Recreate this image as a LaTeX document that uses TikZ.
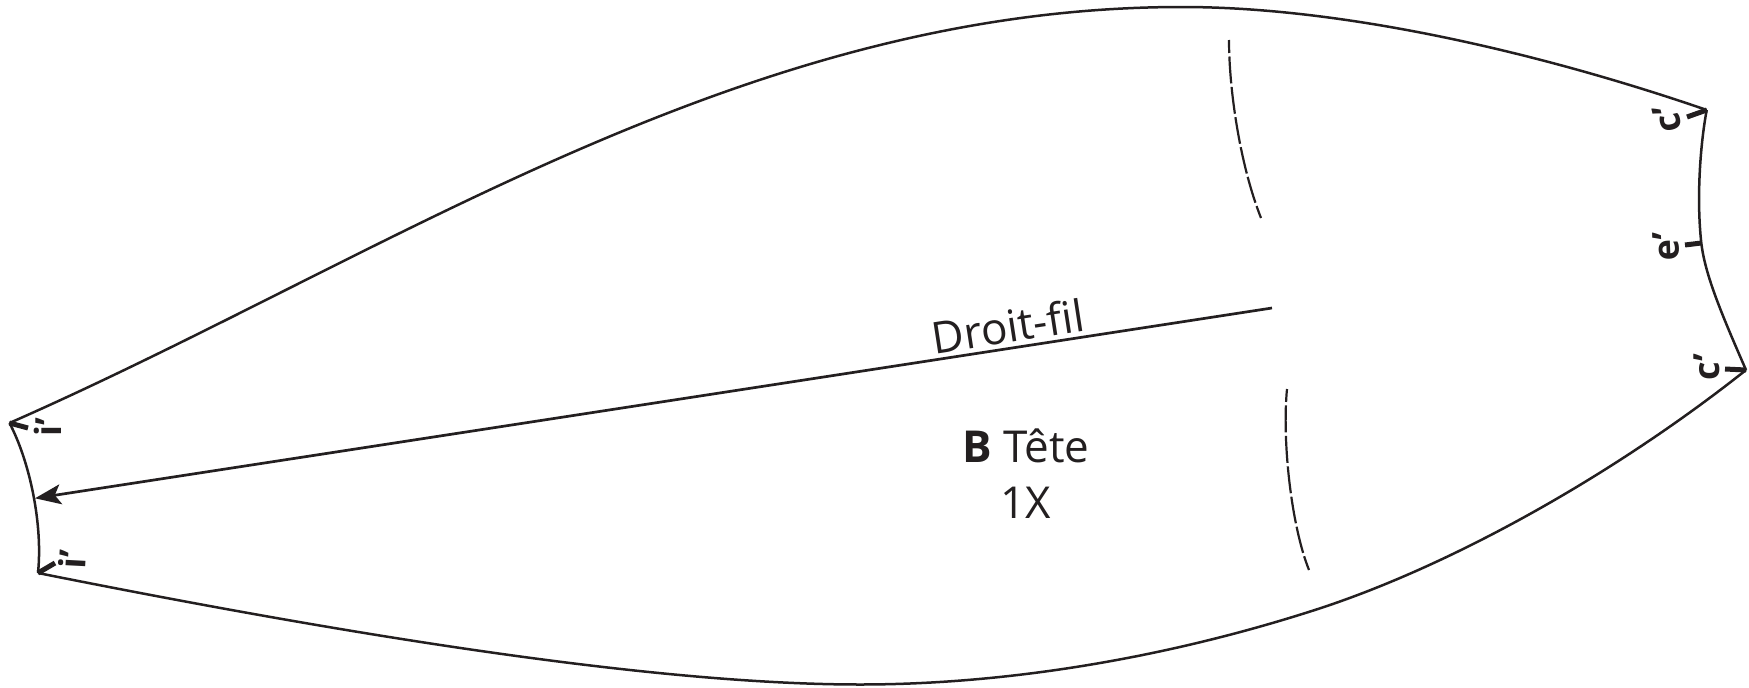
\documentclass[tikz,border=0pt]{standalone}
\usepackage{fontspec}
\setmainfont{Open Sans}
\usetikzlibrary{arrows.meta}
\definecolor{ink}{HTML}{231F20}
\tikzset{
  outline/.style={draw=ink,line width=2.5pt,line join=miter},
  seam/.style={draw=ink,line width=2.2pt,dash pattern=on 27pt off 3.5pt,dash phase=14pt},
  notch/.style={draw=ink,line width=5pt},
  grain/.style={draw=ink,line width=2.7pt},
  marklbl/.style={text=ink,inner sep=0pt,font=\fontsize{36}{36}\selectfont\bfseries},
  lbl/.style={text=ink,inner sep=0pt}
}
\begin{document}
\begin{tikzpicture}[x=1pt,y=-1pt]
\useasboundingbox (0,0) rectangle (1749,688);
\coordinate (tl) at (9.5,423);
\coordinate (bl) at (38,573);
\coordinate (tr) at (1706.7,110);
\coordinate (mr) at (1701.3,243);
\coordinate (br) at (1746,370);
\coordinate (tip) at (35,498.3);
\coordinate (gend) at (1272,308);
% outline
\draw[outline] (tl) .. controls (385,258) and (740,7) .. (1182,7)
  .. controls (1350,7) and (1550,56) .. (tr);
\draw[outline] (tr) .. controls (1701,140) and (1696,195) .. (mr)
  .. controls (1705,275) and (1722,315) .. (br);
\draw[outline] (br) .. controls (1620,470) and (1460,562) .. (1321,608)
  .. controls (1171,657) and (1010,684.5) .. (860,684.5)
  .. controls (650,684.5) and (338,633) .. (bl);
\draw[outline] (bl) .. controls (43,525) and (30,462) .. (tl);
% seam lines
\draw[seam] (1229,40) .. controls (1229,90) and (1240,165) .. (1261,218);
\draw[seam] (1287,389) .. controls (1282,440) and (1291,525) .. (1309,570);
% grain line
\draw[grain,-{Stealth[length=26pt,width=20pt,inset=6pt]}] (gend) -- (tip);
\node[lbl,rotate=8.75,font=\fontsize{44}{44}\selectfont] (dfil) at (1008,326) {Droit-fil};
\node[lbl,anchor=base,font=\fontsize{44}{44}\selectfont] (tete) at (1026,462) {\textbf{B} Tête};
\node[lbl,anchor=base,font=\fontsize{44}{44}\selectfont] (onex) at (1026,518) {1X};
% notches
\draw[notch] (tr) -- (1687,117);
\draw[notch] (mr) -- (1685,245);
\draw[notch] (br) -- (1725,369);
\draw[notch] (tl) -- (28,428);
\draw[notch] (bl) -- (55,563);
\node[marklbl,rotate=103] (c1) at (1667,119) {c'};
\node[marklbl,rotate=92] (e1) at (1666,247) {e'};
\node[marklbl,rotate=90] (c2) at (1707,367) {c'};
\node[marklbl,rotate=90] (i1) at (48,427) {i'};
\node[marklbl,rotate=87] (i2) at (72,559) {i'};
\end{tikzpicture}
\end{document}
